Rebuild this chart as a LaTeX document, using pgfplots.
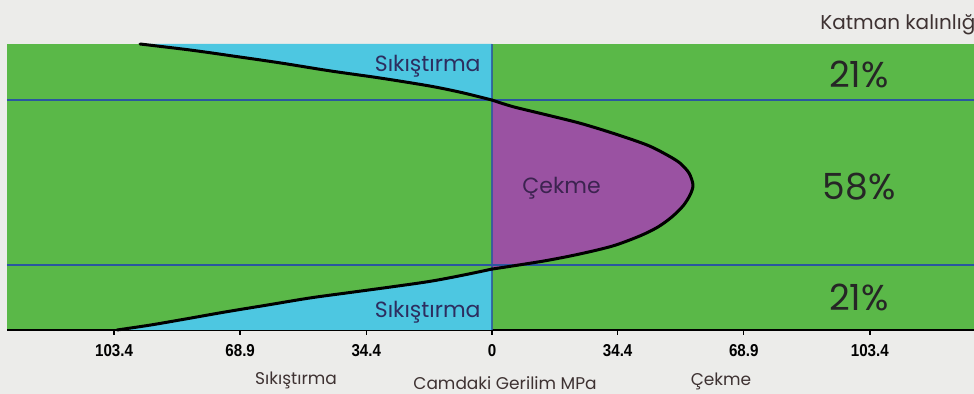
\documentclass[border=0pt]{standalone}
\usepackage{pgfplots}
\pgfplotsset{compat=1.18}
\usepackage{fontspec}
\setmainfont{Poppins}
\newfontfamily\labfont{Poppins}
\newfontfamily\tickfont[FakeStretch=0.88]{Liberation Sans}
\definecolor{mygreen}{RGB}{90,184,72}
\definecolor{mycyan}{RGB}{77,199,225}
\definecolor{mypurple}{RGB}{154,82,162}
\definecolor{myblue}{RGB}{42,86,160}
\definecolor{bggray}{RGB}{236,236,234}
\definecolor{txtnavy}{RGB}{45,45,95}
\definecolor{txtpurp}{RGB}{60,35,80}
\definecolor{txtdark}{RGB}{38,38,38}
\definecolor{txtbrown}{RGB}{62,50,50}
\pgfplotstableread{
x y
-96.3 100
-82.6 97.9
-70.9 95.8
-58.0 93.4
-44.3 90.6
-30.6 88.1
-17.0 85.3
-8.2 83.0
0 80.4
}\topseg
\pgfplotstableread{
x y
0 80.4
5.7 78.1
15.0 75.2
24.1 72.3
33.1 68.8
42.4 64.7
47.9 61.2
51.4 58.4
53.9 54.9
55.0 50.7
54.2 47.2
52.3 43.4
49.2 39.5
45.4 36.0
40.5 32.9
33.1 29.4
24.1 26.6
15.0 24.3
5.7 22.4
0 21.3
}\midseg
\pgfplotstableread{
x y
0 21.3
-8.2 19.1
-17.0 17.0
-27.9 15.0
-38.9 13.1
-49.8 11.2
-61.6 8.7
-73.0 6.3
-84.5 3.7
-93.6 1.7
-102.6 0
}\botseg
\begin{document}
\begin{tikzpicture}
\fill[bggray] (-3.5pt,-32pt) rectangle (483.5pt,165pt);
\useasboundingbox (-3.5pt,-32pt) rectangle (483.5pt,165pt);
\begin{axis}[
  at={(0,0)}, anchor=south west,
  scale only axis, width=483.5pt, height=143pt,
  xmin=-132.7, xmax=131.9, ymin=0, ymax=100,
  axis x line*=bottom, axis y line=none,
  axis line style={black, line width=1.1pt},
  xtick={-103.4,-68.9,-34.4,0,34.4,68.9,103.4},
  xticklabels={103.4,68.9,34.4,0,34.4,68.9,103.4},
  tick style={black, line width=0.7pt},
  major tick length=2.5pt, tick align=outside,
  xticklabel style={font=\tickfont\bfseries\fontsize{8.6}{9}\selectfont, text=black, yshift=-1pt},
  clip=false,
  axis background/.style={fill=mygreen},
]
% fills
\addplot[fill=mycyan, draw=none, smooth, tension=0.5] table {\topseg}
  -- (axis cs:0,100) -- (axis cs:-96.3,100) -- cycle;
\addplot[fill=mypurple, draw=none, smooth, tension=0.5] table {\midseg}
  -- cycle;
\addplot[fill=mycyan, draw=none, smooth, tension=0.5] table {\botseg}
  -- (axis cs:0,0) -- cycle;
% layer boundaries
\addplot[myblue, line width=1pt] coordinates {(-132.7,80.4) (131.9,80.4)};
\addplot[myblue, line width=1pt] coordinates {(-132.7,22.7) (131.9,22.7)};
\addplot[myblue, opacity=0.8, line width=0.9pt] coordinates {(0,0) (0,100)};
% stress profile outline
\addplot[black, line width=1.5pt, smooth, tension=0.5, line cap=round] table {\topseg};
\addplot[black, line width=1.5pt, smooth, tension=0.5, line cap=round] table {\midseg};
\addplot[black, line width=1.5pt, smooth, tension=0.5, line cap=round] table {\botseg};
\end{axis}
% labels
\node[anchor=east, text=txtnavy, font=\labfont\fontsize{11}{12}\selectfont, inner sep=0pt] at (237pt,132pt) {Sıkıştırma};
\node[anchor=east, text=txtnavy, font=\labfont\fontsize{11}{12}\selectfont, inner sep=0pt] at (237pt,9pt) {Sıkıştırma};
\node[anchor=west, text=txtpurp, font=\labfont\fontsize{11}{12}\selectfont, inner sep=0pt] at (257.5pt,71pt) {Çekme};
\node[text=txtdark, font=\labfont\fontsize{18}{19}\selectfont, inner sep=0pt] at (426pt,128pt) {21\%};
\node[text=txtdark, font=\labfont\fontsize{18}{19}\selectfont, inner sep=0pt] at (426pt,71.5pt) {58\%};
\node[text=txtdark, font=\labfont\fontsize{18}{19}\selectfont, inner sep=0pt] at (426pt,16.5pt) {21\%};
\node[anchor=west, text=txtbrown, font=\labfont\fontsize{10}{11}\selectfont, inner sep=0pt] at (406.5pt,152.5pt) {Katman kalınlığı};
\node[text=txtbrown, font=\labfont\fontsize{8.5}{9}\selectfont, inner sep=0pt] at (144.5pt,-25pt) {Sıkıştırma};
\node[text=txtbrown, font=\labfont\fontsize{8.5}{9}\selectfont, inner sep=0pt] at (249pt,-26.5pt) {Camdaki Gerilim MPa};
\node[text=txtbrown, font=\labfont\fontsize{8.5}{9}\selectfont, inner sep=0pt] at (357pt,-25.5pt) {Çekme};
\end{tikzpicture}
\end{document}
